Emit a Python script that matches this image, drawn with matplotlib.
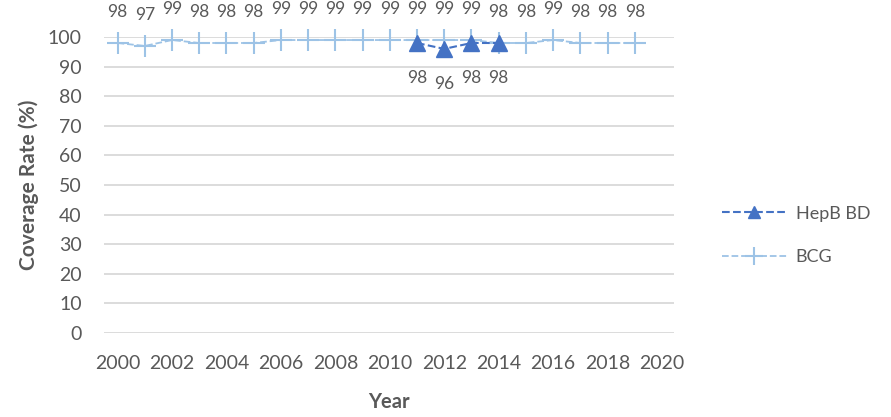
import matplotlib.pyplot as plt

# Données
years = list(range(2000, 2020))
bcg = [98, 97, 99, 98, 98, 98, 99, 99, 99, 99, 99, 99, 99, 99, 98, 98, 99, 98, 98, 98]
hepb_years = [2011, 2012, 2013, 2014]
hepb_bd = [98, 96, 98, 98]

plt.rcParams['font.family'] = ['Lato', 'DejaVu Sans']
grey = '#595959'

fig = plt.figure(figsize=(8.91, 4.17), dpi=100)
ax = fig.add_axes([0.1167, 0.2014, 0.64, 0.7097])

ax.plot(hepb_years, hepb_bd, color='#4472C4', linestyle='--', linewidth=1.5,
        marker='^', markersize=11, label='HepB BD', clip_on=False, zorder=4)
ax.plot(years, bcg, color='#9DC3E6', linestyle='--', linewidth=1.3,
        marker='+', markersize=16, markeredgewidth=1.5, label='BCG', clip_on=False, zorder=3)

for x, y in zip(years, bcg):
    ax.annotate(str(y), (x, y), xytext=(0, 22), textcoords='offset points',
                ha='center', va='center', fontsize=12.5, color=grey, annotation_clip=False)
for x, y in zip(hepb_years, hepb_bd):
    ax.annotate(str(y), (x, y), xytext=(0, -25), textcoords='offset points',
                ha='center', va='center', fontsize=12.5, color=grey, annotation_clip=False)

ax.set_xlim(1999.5, 2020.45)
ax.set_ylim(0, 100)
ax.set_xticks(range(2000, 2021, 2))
ax.set_yticks(range(0, 101, 10))
ax.tick_params(axis='x', length=0, labelsize=14, labelcolor=grey, pad=16)
ax.tick_params(axis='y', length=0, labelsize=14, labelcolor=grey, pad=16)
ax.grid(axis='y', color='#D9D9D9', linewidth=1.3)
ax.set_axisbelow(True)
for s in ax.spines.values():
    s.set_visible(False)

ax.set_xlabel('Year', fontsize=14.5, fontweight='bold', color=grey, labelpad=14)
ax.set_ylabel('Coverage Rate (%)', fontsize=15, fontweight='bold', color=grey, labelpad=6)

ax.legend(loc='center left', bbox_to_anchor=(1.055, 0.33), frameon=False,
          fontsize=13, labelcolor=grey, handlelength=3.6, labelspacing=1.5,
          markerscale=0.8, handletextpad=0.5)

fig.savefig('out.png', dpi=100)
